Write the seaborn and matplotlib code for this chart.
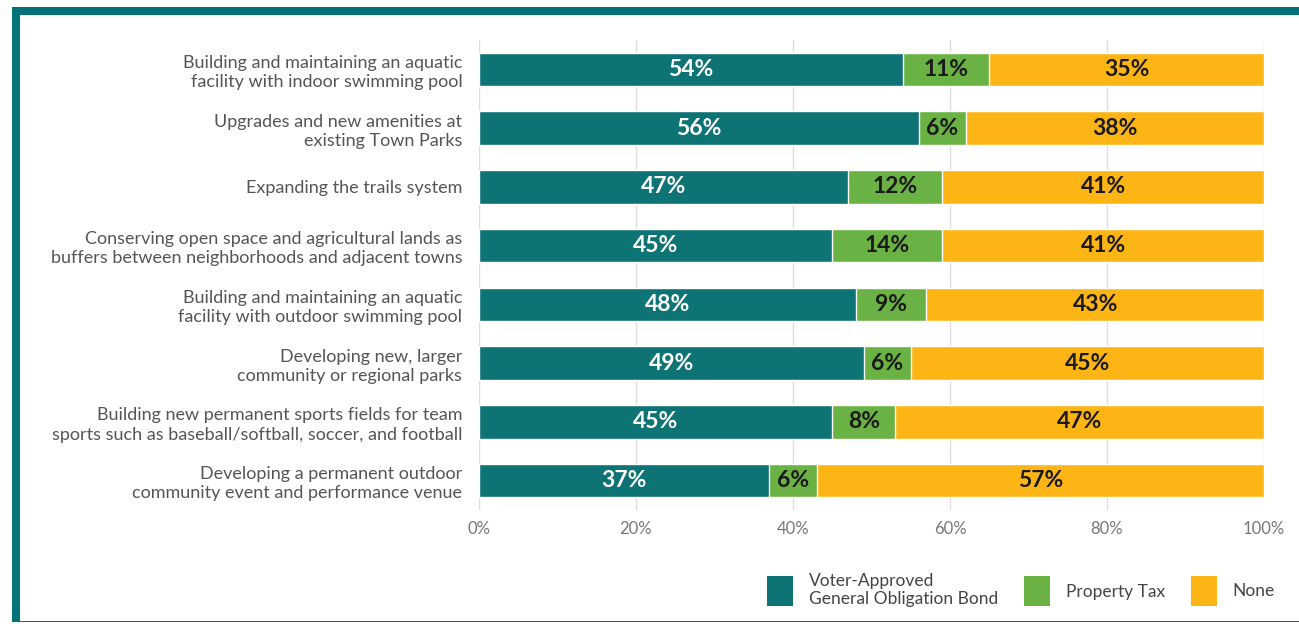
import matplotlib
matplotlib.use('Agg')
import matplotlib.pyplot as plt
import seaborn as sns
import pandas as pd
import numpy as np
from matplotlib.patches import Rectangle, Patch
from matplotlib.ticker import PercentFormatter

categories = [
    "Building and maintaining an aquatic\nfacility with indoor swimming pool",
    "Upgrades and new amenities at\nexisting Town Parks",
    "Expanding the trails system",
    "Conserving open space and agricultural lands as\nbuffers between neighborhoods and adjacent towns",
    "Building and maintaining an aquatic\nfacility with outdoor swimming pool",
    "Developing new, larger\ncommunity or regional parks",
    "Building new permanent sports fields for team\nsports such as baseball/softball, soccer, and football",
    "Developing a permanent outdoor\ncommunity event and performance venue",
]
bond = [54, 56, 47, 45, 48, 49, 45, 37]
tax = [11, 6, 12, 14, 9, 6, 8, 6]
none = [35, 38, 41, 41, 43, 45, 47, 57]
series_names = ["Voter-Approved\nGeneral Obligation Bond", "Property Tax", "None"]

teal = "#0E7375"
green = "#6BB244"
yellow = "#FDB515"
border = "#00727A"

sns.set_theme(style="white")
plt.rcParams['font.family'] = ['Lato', 'DejaVu Sans']

df = pd.DataFrame({"cat": categories, "bond": bond, "tax": tax, "none": none})
df["c1"] = df["bond"]
df["c2"] = df["bond"] + df["tax"]
df["c3"] = df["c2"] + df["none"]

fig = plt.figure(figsize=(12.99, 6.24), dpi=100)
ax = fig.add_axes([479/1299, 1-510/624, (1264-479)/1299, 470/624])

w = 0.57
# stacked bars: draw cumulative totals back to front
sns.barplot(data=df, y="cat", x="c3", color=yellow, orient="h", width=w, ax=ax, saturation=1)
sns.barplot(data=df, y="cat", x="c2", color=green, orient="h", width=w, ax=ax, saturation=1)
sns.barplot(data=df, y="cat", x="c1", color=teal, orient="h", width=w, ax=ax, saturation=1)

for i, row in df.iterrows():
    starts = [0, row["c1"], row["c2"]]
    vals = [row["bond"], row["tax"], row["none"]]
    cols = ["white", "#1a1a1a", "#1a1a1a"]
    for s, v, c in zip(starts, vals, cols):
        ax.text(s + v / 2, i, f"{v}%", ha="center", va="center",
                fontsize=16.5, fontweight="bold", color=c)

ax.set_xlim(0, 100)
ax.set_ylim(7.5, -0.5)
ax.set_xticks(range(0, 101, 20))
ax.xaxis.set_major_formatter(PercentFormatter(decimals=0))
ax.grid(axis="x", color="#dddddd", linewidth=1)
ax.set_axisbelow(True)
for s in ax.spines.values():
    s.set_visible(False)
ax.set_xlabel("")
ax.set_ylabel("")
ax.tick_params(axis="x", labelsize=12, colors="#777777", pad=8, length=0)
ax.tick_params(axis="y", labelsize=13, colors="#555555", pad=12, length=0)
for lab in ax.get_yticklabels():
    lab.set_horizontalalignment("right")
    lab.set_multialignment("right")
    lab.set_linespacing(1.25)

handles = [Patch(facecolor=c, edgecolor="none") for c in [teal, green, yellow]]
fig.legend(handles, series_names, loc="center", bbox_to_anchor=(1021/1299, 1-590/624),
           ncol=3, frameon=False, fontsize=12.5, handlelength=1.5, handleheight=2.3,
           handletextpad=0.9, columnspacing=1.5, labelcolor="#444444")

# teal frame
fig.add_artist(Rectangle((12/1299, 1-15/624), 1 - 12/1299, 8/624, transform=fig.transFigure,
                         facecolor=border, edgecolor="none"))
fig.add_artist(Rectangle((12/1299, 1-622/624), 8/1299, 615/624, transform=fig.transFigure,
                         facecolor=border, edgecolor="none"))
fig.add_artist(Rectangle((12/1299, 1-622/624), 1 - 12/1299, 1.5/624, transform=fig.transFigure,
                         facecolor=border, edgecolor="none"))

fig.savefig("out.png", dpi=100)
